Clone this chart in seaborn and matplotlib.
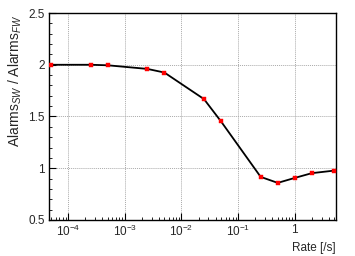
import matplotlib
matplotlib.use("Agg")
import matplotlib.pyplot as plt
import seaborn as sns
import numpy as np
import pandas as pd
from matplotlib.ticker import LogLocator, MultipleLocator

rate = [5e-5, 2.5e-4, 5e-4, 2.5e-3, 5e-3, 2.5e-2, 5e-2, 0.25, 0.5, 1.0, 2.0, 5.0]
ratio = [2.0, 2.0, 1.995, 1.96, 1.925, 1.668, 1.452, 0.916, 0.858, 0.906, 0.952, 0.977]
xtick_vals = [1e-4, 1e-3, 1e-2, 1e-1, 1]
xtick_labels = [r"$10^{-4}$", r"$10^{-3}$", r"$10^{-2}$", r"$10^{-1}$", "1"]
ytick_vals = [0.5, 1.0, 1.5, 2.0, 2.5]
ytick_labels = ["0.5", "1", "1.5", "2", "2.5"]

df = pd.DataFrame({"rate": rate, "ratio": ratio})

sns.set_style("white")
plt.rcParams['font.family'] = ['Liberation Sans', 'DejaVu Sans']
plt.rcParams['mathtext.fontset'] = 'custom'
plt.rcParams['mathtext.rm'] = 'Liberation Sans'
plt.rcParams['mathtext.it'] = 'Liberation Sans:italic'
plt.rcParams['mathtext.default'] = 'regular'

fig = plt.figure(figsize=(3.55, 2.56), dpi=100)
ax = fig.add_axes([0.138, 0.141, 0.808, 0.808])

sns.lineplot(data=df, x="rate", y="ratio", ax=ax, color="black", linewidth=1.3, zorder=3)
sns.scatterplot(data=df, x="rate", y="ratio", ax=ax, color="red", s=5, marker="s",
                edgecolor="red", linewidth=0.3, zorder=4)

ax.set_xscale("log")
ax.set_xlim(4.6e-5, 5.3)
ax.set_ylim(0.5, 2.5)

ax.yaxis.set_minor_locator(MultipleLocator(0.1))
ax.set_yticks(ytick_vals)
ax.set_yticklabels(ytick_labels)
ax.xaxis.set_minor_locator(LogLocator(base=10, subs=np.arange(2, 10), numticks=50))
ax.set_xticks(xtick_vals)
ax.set_xticklabels(xtick_labels)

ax.tick_params(axis="both", which="both", bottom=True, left=True, top=False, right=False)
ax.tick_params(axis="both", which="major", direction="in", length=5, width=0.8,
               labelsize=8.5, color="black", pad=3)
ax.tick_params(axis="both", which="minor", direction="in", length=2.5, width=0.6, color="black")

ax.grid(True, which="major", linestyle=(0, (1, 1)), color="#aaaaaa", linewidth=0.7)
for s in ax.spines.values():
    s.set_color("black")
    s.set_linewidth(1.0)
    s.set_visible(True)

ax.set_xlabel("Rate [/s]", fontsize=8.5, ha="right", x=1.0, labelpad=2)
ax.set_ylabel(r"Alarms$_{\mathit{SW}}$ / Alarms$_{\mathit{FW}}$", fontsize=10, ha="right", y=0.99, labelpad=3)

fig.savefig("out.png", dpi=100)
